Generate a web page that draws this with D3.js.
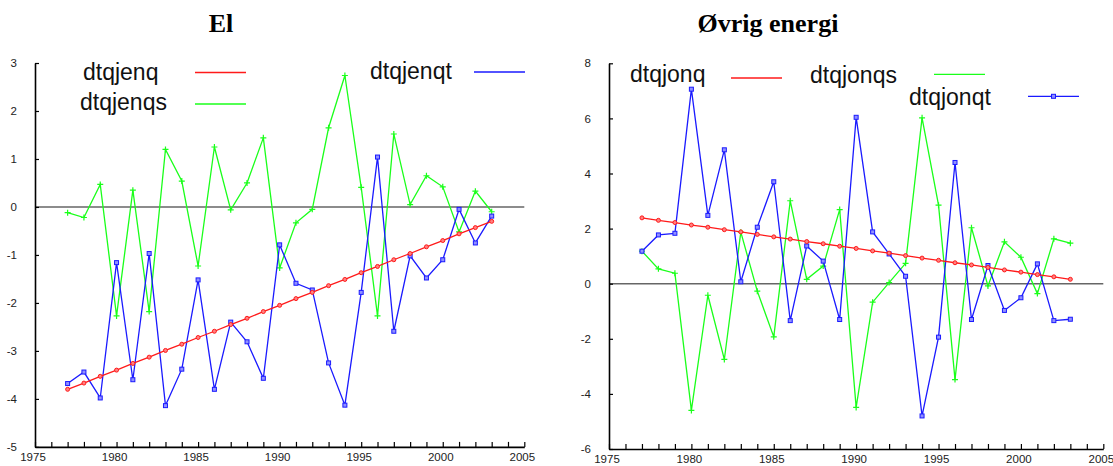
<!DOCTYPE html>
<html>
<head>
<meta charset="utf-8">
<script src="https://d3js.org/d3.v7.min.js"></script>
<style>
  html, body { margin: 0; padding: 0; background: #fff; }
  svg { display: block; }
  .tick text { font-family: "Liberation Sans", Arial, sans-serif; font-size: 11.5px; fill: #222; }
</style>
</head>
<body>
<svg id="chart" width="1113" height="466"></svg>
<script>
// Years shared by both panels
const years = d3.range(1977, 2004);

// Panel "El"
const dtqjenq  = [-3.80, -3.67, -3.53, -3.40, -3.26, -3.13, -2.99, -2.86, -2.72, -2.59, -2.45, -2.32, -2.18, -2.05,
                  -1.91, -1.78, -1.64, -1.51, -1.37, -1.24, -1.10, -0.97, -0.83, -0.70, -0.56, -0.43, -0.30];
const dtqjenqs = [-0.12, -0.22, 0.47, -2.27, 0.35, -2.18, 1.20, 0.54, -1.23, 1.25, -0.06, 0.50, 1.44, -1.27,
                  -0.33, -0.05, 1.65, 2.74, 0.41, -2.27, 1.52, 0.05, 0.65, 0.42, -0.52, 0.33, -0.10];
const dtqjenqt = [-3.68, -3.44, -3.98, -1.16, -3.60, -0.97, -4.14, -3.38, -1.52, -3.80, -2.40, -2.81, -3.57, -0.79,
                  -1.59, -1.73, -3.25, -4.13, -1.78, 1.04, -2.59, -1.02, -1.48, -1.10, -0.05, -0.75, -0.19];

// Panel "Øvrig energi"
const dtqjonq  = [2.39, 2.30, 2.22, 2.13, 2.05, 1.96, 1.88, 1.79, 1.70, 1.62, 1.53, 1.45, 1.36, 1.28,
                  1.19, 1.11, 1.02, 0.93, 0.85, 0.76, 0.68, 0.59, 0.50, 0.42, 0.33, 0.25, 0.16];
const dtqjonqs = [1.18, 0.54, 0.38, -4.60, -0.42, -2.75, 1.87, -0.27, -1.93, 3.01, 0.16, 0.64, 2.69, -4.49,
                  -0.67, 0.04, 0.74, 6.02, 2.85, -3.48, 2.03, -0.08, 1.52, 0.96, -0.36, 1.63, 1.47];
const dtqjonqt = [1.18, 1.77, 1.83, 7.06, 2.48, 4.86, 0.07, 2.05, 3.70, -1.34, 1.37, 0.82, -1.30, 6.04,
                  1.88, 1.08, 0.27, -4.80, -1.94, 4.40, -1.30, 0.66, -0.97, -0.51, 0.72, -1.34, -1.29];

// Axis tick values
const xTicks = d3.range(1975, 2006);
const xLabels = [1975, 1980, 1985, 1990, 1995, 2000, 2005];
const yTicksEl = [-5, -4, -3, -2, -1, 0, 1, 2, 3];
const yTicksOvrig = [-6, -4, -2, 0, 2, 4, 6, 8];

const svg = d3.select("#chart");
const RED = "#ff1a1a", GREEN = "#1aff1a", BLUE = "#1a1aff";

function panel(cfg) {
  const g = svg.append("g");
  const x = d3.scaleLinear().domain([1975, 2005]).range(cfg.xr);
  const y = d3.scaleLinear().domain(cfg.yd).range(cfg.yr);

  // title
  g.append("text")
    .attr("x", cfg.titleX).attr("y", 32)
    .attr("text-anchor", "middle")
    .style("font-family", "'Liberation Serif', 'Times New Roman', serif")
    .style("font-weight", "bold").style("font-size", "26px")
    .text(cfg.title);

  // zero reference line
  g.append("line")
    .attr("x1", x(1975)).attr("x2", x(2005))
    .attr("y1", y(0)).attr("y2", y(0))
    .attr("stroke", "#666").attr("stroke-width", 1.6);

  // y axis (ticks point into the plot)
  const ya = g.append("g").attr("transform", `translate(${x(1975)},0)`)
    .call(d3.axisLeft(y).tickValues(cfg.yTicks).tickSizeInner(-4).tickSizeOuter(0)
      .tickPadding(18).tickFormat(d => String(d)));

  // x axis (a tick each year, labels every five years)
  const xa = g.append("g").attr("transform", `translate(0,${y(cfg.yd[0])})`)
    .call(d3.axisBottom(x).tickValues(xTicks).tickSizeInner(-5).tickSizeOuter(0)
      .tickPadding(6).tickFormat(d => xLabels.includes(d) ? String(d) : ""));
  xa.selectAll(".tick text").attr("dx", -2.5);

  [ya, xa].forEach(a => {
    a.select(".domain").attr("stroke", "#000").attr("stroke-width", 1.6);
    a.selectAll(".tick line").attr("stroke", "#000").attr("stroke-width", 1.2);
  });

  const line = d3.line().x((d, i) => x(years[i])).y(d => y(d));

  // series: trend (red), s (green), t (blue)
  cfg.series.forEach(s => {
    g.append("path").datum(s.values)
      .attr("d", line).attr("fill", "none")
      .attr("stroke", s.color).attr("stroke-width", 1.3);
    const m = g.append("g");
    s.values.forEach((v, i) => {
      const px = x(years[i]), py = y(v);
      if (s.marker === "circle") {
        m.append("circle").attr("cx", px).attr("cy", py).attr("r", 2)
          .attr("fill", "#ff8080").attr("stroke", s.color).attr("stroke-width", 1);
      } else if (s.marker === "plus") {
        m.append("path").attr("d", `M${px - 3},${py}H${px + 3}M${px},${py - 3}V${py + 3}`)
          .attr("stroke", s.color).attr("stroke-width", 1.2);
      } else {
        m.append("rect").attr("x", px - 2).attr("y", py - 2).attr("width", 4).attr("height", 4)
          .attr("fill", "#9090ff").attr("stroke", s.color).attr("stroke-width", 1);
      }
    });
  });

  // legend
  cfg.legend.forEach(l => {
    g.append("text").attr("x", l.tx).attr("y", l.ty)
      .style("font-family", "'Liberation Sans', Arial, sans-serif").style("font-size", "23px")
      .attr("fill", "#111").text(l.label);
    g.append("line").attr("x1", l.lx).attr("x2", l.lx + 51)
      .attr("y1", l.ly).attr("y2", l.ly)
      .attr("stroke", l.color).attr("stroke-width", 1.3);
    if (l.marker) {
      g.append("rect").attr("x", l.lx + 23.5).attr("y", l.ly - 2).attr("width", 4).attr("height", 4)
        .attr("fill", "#9090ff").attr("stroke", l.color).attr("stroke-width", 1);
    }
  });
}

panel({
  title: "El", titleX: 221,
  xr: [35, 524.3], yd: [-5, 3], yr: [446.9, 63], yTicks: yTicksEl,
  series: [
    { values: dtqjenqs, color: GREEN, marker: "plus" },
    { values: dtqjenqt, color: BLUE, marker: "square" },
    { values: dtqjenq, color: RED, marker: "circle" }
  ],
  legend: [
    { label: "dtqjenq",  tx: 83,  ty: 80,  lx: 195,  ly: 72.5, color: RED },
    { label: "dtqjenqs", tx: 80,  ty: 110, lx: 195,  ly: 104,  color: GREEN },
    { label: "dtqjenqt", tx: 370, ty: 79,  lx: 474,  ly: 72,   color: BLUE }
  ]
});

panel({
  title: "Øvrig energi", titleX: 768,
  xr: [609, 1103.3], yd: [-6, 8], yr: [449, 63.3], yTicks: yTicksOvrig,
  series: [
    { values: dtqjonqs, color: GREEN, marker: "plus" },
    { values: dtqjonqt, color: BLUE, marker: "square" },
    { values: dtqjonq, color: RED, marker: "circle" }
  ],
  legend: [
    { label: "dtqjonq",  tx: 630, ty: 82,  lx: 731,  ly: 78,   color: RED },
    { label: "dtqjonqs", tx: 810, ty: 83,  lx: 934,  ly: 74.3, color: GREEN },
    { label: "dtqjonqt", tx: 909, ty: 105, lx: 1028, ly: 96.3, color: BLUE, marker: true }
  ]
});
</script>
</body>
</html>
